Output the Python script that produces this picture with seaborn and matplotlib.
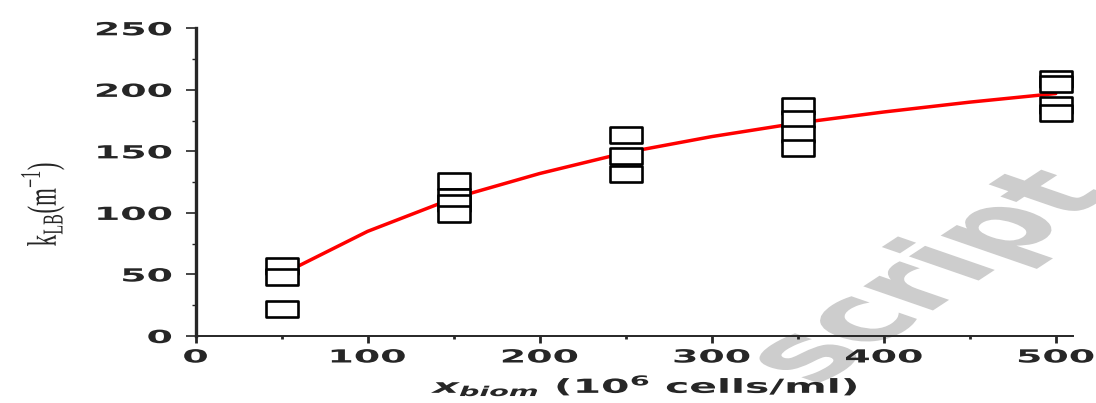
import matplotlib
matplotlib.use("Agg")
import matplotlib.pyplot as plt
import seaborn as sns
import numpy as np
import pandas as pd
from matplotlib.patheffects import AbstractPathEffect
from matplotlib.transforms import Affine2D
from matplotlib.path import Path
from matplotlib.markers import MarkerStyle

# ---- data ----
x_biom = [50, 50, 50, 150, 150, 150, 150, 250, 250, 250,
          350, 350, 350, 350, 500, 500, 500, 500]
k_lb = [57, 48, 22, 126, 113, 108, 99, 163, 146, 132,
        187, 176, 164, 153, 209, 205, 188, 181]
fit_x = [50, 100, 150, 200, 250, 300, 350, 400, 450, 500]
fit_y = [50, 85, 112, 132, 149, 162, 173, 182, 190, 197]
x_ticks = [0, 100, 200, 300, 400, 500]
x_minor = [50, 150, 250, 350, 450]
y_ticks = [0, 50, 100, 150, 200, 250]
y_minor = [25, 75, 125, 175, 225]

sns.set_style("ticks")
plt.rcParams.update({
    "font.family": ["DejaVu Sans"],
    "mathtext.fontset": "custom",
    "mathtext.rm": "Liberation Serif",
    "mathtext.it": "DejaVu Sans:italic:bold",
    "mathtext.bf": "DejaVu Sans:bold",
})


class Stretch(AbstractPathEffect):
    """Widen drawn text horizontally (display x) around an anchor."""

    def __init__(self, sx, anchor="center"):
        super().__init__()
        self.sx = sx
        self.anchor = anchor

    def draw_path(self, renderer, gc, tpath, affine, rgbFace=None):
        bb = tpath.get_extents(affine)
        if self.anchor == "left":
            cx = bb.x0
        elif self.anchor == "right":
            cx = bb.x1
        else:
            cx = 0.5 * (bb.x0 + bb.x1)
        t = affine + Affine2D().translate(-cx, 0).scale(self.sx, 1).translate(cx, 0)
        renderer.draw_path(gc, tpath, t, rgbFace)


W, H = 1096, 403
fig = plt.figure(figsize=(W / 100, H / 100), dpi=100)
x0, x1 = 195.5, 1073
y_top, y_bot = 28.3, 336
ax = fig.add_axes([x0 / W, 1 - y_bot / H, (x1 - x0) / W, (y_bot - y_top) / H])
ax.set_facecolor("none")

# watermark fragment (behind the axes)
fig.text(932 / W, 1 - 278 / H, "script", rotation=54, fontsize=54, fontweight="bold",
         color="#cdcdcd", ha="center", va="center", zorder=-5,
         path_effects=[Stretch(2.1)])

sns.lineplot(x=fit_x, y=fit_y, color="red", linewidth=2.5, ax=ax, zorder=2)

rect = MarkerStyle(Path([(-1, -0.5), (1, -0.5), (1, 0.5), (-1, 0.5), (-1, -0.5)],
                        closed=True))
sns.scatterplot(x=x_biom, y=k_lb, marker=rect, s=530, color="white",
                edgecolor="black", linewidth=1.9, ax=ax, zorder=3)

ax.set_xlim(0, 510)
ax.set_ylim(0, 250)
ax.set_xlabel("")
ax.set_ylabel("")
for s in ("top", "right"):
    ax.spines[s].set_visible(False)
ax.spines["left"].set_linewidth(2.4)
ax.spines["bottom"].set_linewidth(1.4)

ax.set_xticks(x_ticks, labels=[str(v) for v in x_ticks])
ax.set_xticks(x_minor, minor=True)
ax.set_yticks(y_ticks, labels=[str(v) for v in y_ticks])
ax.set_yticks(y_minor, minor=True)

ax.tick_params(axis="y", which="major", direction="out", length=7.5, width=1.2, pad=9.5)
ax.tick_params(axis="y", which="minor", direction="out", length=3, width=1.0)
ax.tick_params(axis="x", which="major", direction="out", length=5, width=2.0, pad=4)
ax.tick_params(axis="x", which="minor", direction="out", length=2, width=2.0)

for lbl in ax.get_xticklabels():
    lbl.set_fontsize(13)
    lbl.set_fontweight("bold")
    lbl.set_path_effects([Stretch(2.1, "center")])
for lbl in ax.get_yticklabels():
    lbl.set_fontsize(13)
    lbl.set_fontweight("bold")
    lbl.set_path_effects([Stretch(2.1, "right")])

fig.text(0.589, (H - 393) / H, r"$x_{biom}$ (10$^{\mathbf{6}}$ cells/ml)",
         fontsize=14, fontweight="bold", ha="center", va="baseline",
         path_effects=[Stretch(2.1, "center")])

fig.text(0.039, 1 - 204 / H, r"k$_{\mathrm{LB}}$(m$^{\mathrm{-1}}$)",
         fontsize=16.5, rotation=90, ha="center", va="center",
         family="Liberation Serif", path_effects=[Stretch(1.8, "center")])

fig.savefig("out.png", dpi=100)
